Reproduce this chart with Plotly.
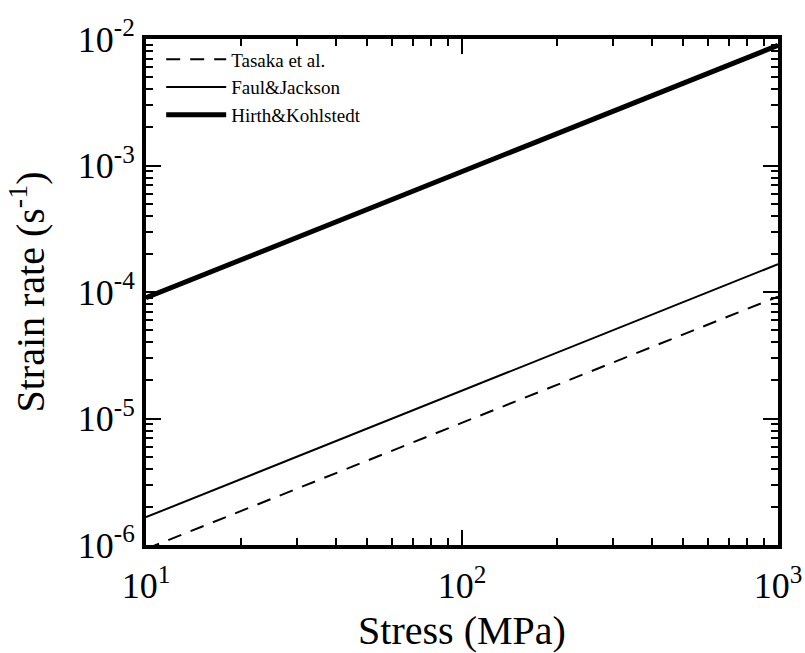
import plotly.graph_objects as go

# Stress (MPa) and strain rate (1/s) for three olivine diffusion-creep flow laws
stress = [10, 1000]
tasaka_rate = [9.3e-7, 9.2e-5]
faul_jackson_rate = [1.66e-6, 1.66e-4]
hirth_kohlstedt_rate = [9.0e-5, 8.9e-3]

x_tick_vals = [10, 100, 1000]
x_tick_text = ["10<sup>1</sup>", "10<sup>2</sup>", "10<sup>3</sup>"]
y_tick_vals = [1e-6, 1e-5, 1e-4, 1e-3, 1e-2]
y_tick_text = ["10<sup>-6</sup>", "10<sup>-5</sup>", "10<sup>-4</sup>",
               "10<sup>-3</sup>", "10<sup>-2</sup>"]
x_mid_ticks = [50, 500]
y_mid_ticks = [5e-6, 5e-5, 5e-4, 5e-3]

FONT = "Liberation Serif"

fig = go.Figure()
fig.add_trace(go.Scatter(x=stress, y=tasaka_rate, mode="lines", name="Tasaka et al.",
                         line=dict(color="black", width=2, dash="14px,10px")))
fig.add_trace(go.Scatter(x=stress, y=faul_jackson_rate, mode="lines", name="Faul&Jackson",
                         line=dict(color="black", width=2)))
fig.add_trace(go.Scatter(x=stress, y=hirth_kohlstedt_rate, mode="lines", name="Hirth&Kohlstedt",
                         line=dict(color="black", width=5)))

common = dict(
    type="log", showgrid=False, zeroline=False, automargin=False,
    showline=True, linecolor="black", linewidth=4, mirror="allticks",
    ticks="inside", ticklen=15, tickwidth=2, tickcolor="black",
    tickfont=dict(family=FONT, size=36, color="black"),
    minor=dict(ticks="inside", ticklen=7, tickwidth=2, tickcolor="black", dtick="D1",
               showgrid=False),
)

fig.update_layout(
    width=805, height=653,
    margin=dict(l=146, r=27, t=39, b=108),
    paper_bgcolor="white", plot_bgcolor="white",
    font=dict(family=FONT, color="black"),
    showlegend=True,
    legend=dict(x=0.024, y=0.997, xanchor="left", yanchor="top",
                bgcolor="rgba(0,0,0,0)", borderwidth=0, itemwidth=60,
                font=dict(family=FONT, size=19, color="black"),
                tracegroupgap=0),
    xaxis=dict(range=[1, 3], tickvals=x_tick_vals, ticktext=x_tick_text,
               ticklabelstandoff=6,
               title=dict(text="Stress (MPa)", font=dict(family=FONT, size=40), standoff=14),
               **common),
    yaxis=dict(range=[-6, -2], tickvals=y_tick_vals, ticktext=y_tick_text,
               title=dict(text="Strain rate (s<sup>-1</sup>)", font=dict(family=FONT, size=40),
                          standoff=22),
               **common),
    # overlay axes carrying the medium-length ticks at the 5s
    xaxis2=dict(type="log", range=[1, 3], overlaying="x", anchor="y", side="bottom",
                tickvals=x_mid_ticks, showticklabels=False, ticks="inside", ticklen=10,
                tickwidth=2, tickcolor="black", mirror="allticks", showline=False,
                showgrid=False, zeroline=False),
    yaxis2=dict(type="log", range=[-6, -2], overlaying="y", anchor="x", side="left",
                tickvals=y_mid_ticks, showticklabels=False, ticks="inside", ticklen=10,
                tickwidth=2, tickcolor="black", mirror="allticks", showline=False,
                showgrid=False, zeroline=False),
)

fig.write_html("out.html")
